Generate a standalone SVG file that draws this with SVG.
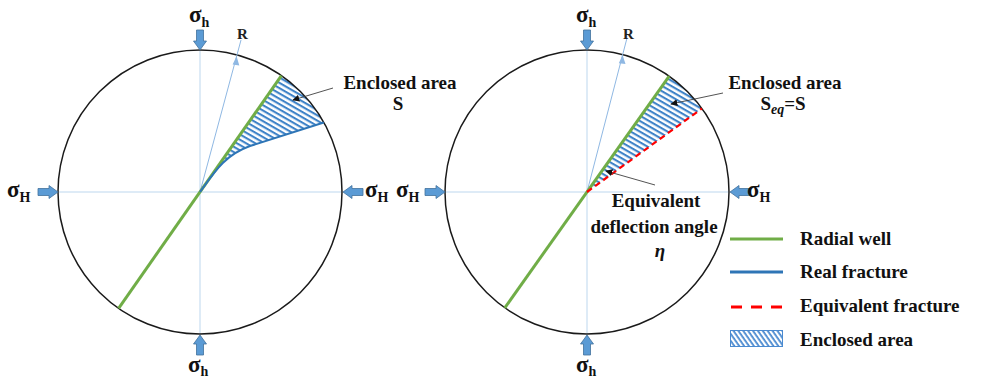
<svg xmlns="http://www.w3.org/2000/svg" width="984" height="379" viewBox="0 0 984 379">
<defs>
<style>
.circ{fill:none;stroke:#1a1a1a;stroke-width:1.5}
.axis{stroke:#bdd7ee;stroke-width:1;fill:none}
.rline{stroke:#8fb8e3;stroke-width:1;fill:none}
.well{stroke:#70ad47;stroke-width:3;fill:none;stroke-linecap:butt}
.real{stroke:#2e75b6;stroke-width:2;fill:none}
.eqf{stroke:#ff0000;stroke-width:2.2;fill:none;stroke-dasharray:6 4}
.ptr{stroke:#404040;stroke-width:0.9;fill:none}
.lbl{font-family:"Liberation Serif","Times New Roman",serif;font-weight:bold;font-size:19px;fill:#111}
.sig{font-family:"Liberation Serif","Times New Roman",serif;font-weight:bold;font-size:23px;fill:#111}
.sub{font-size:14px}
.rt{font-family:"Liberation Serif","Times New Roman",serif;font-size:15px;font-weight:bold;fill:#222}
.barrow{fill:#5b9bd5;stroke:#41719c;stroke-width:0.8}
</style>
<pattern id="hatch" patternUnits="userSpaceOnUse" width="10" height="4.6" patternTransform="rotate(30)">
<rect x="0" y="0" width="10" height="4.6" fill="#ffffff"/>
<rect x="0" y="0" width="10" height="2.1" fill="#3f83c8"/>
</pattern>
<pattern id="hatchL" patternUnits="userSpaceOnUse" width="10" height="4" patternTransform="rotate(55)">
<rect x="0" y="0" width="10" height="4" fill="#ffffff"/>
<rect x="0" y="0" width="10" height="1.8" fill="#4a8ad0"/>
</pattern>
<marker id="ah" viewBox="0 0 10 10" refX="9" refY="5" markerWidth="7" markerHeight="7" orient="auto" markerUnits="userSpaceOnUse">
<path d="M0,0 L10,5 L0,10 z" fill="#111"/>
</marker>
<path id="ba" d="M0,-3.5 L11,-3.5 L11,-6.5 L20,0 L11,6.5 L11,3.5 L0,3.5 z"/>
</defs>
<rect width="984" height="379" fill="#ffffff"/>

<g id="left-diagram">
<path class="axis" d="M200,50 V334 M58,192 H342"/>
<path id="left-area" d="M200,192 C215,171 225,155 250,146 L323.8,122.5 A142,142 0 0 0 281.4,75.7 Z" fill="url(#hatch)"/>
<circle class="circ" cx="200" cy="192" r="142"/>
<path class="rline" d="M200,192 L241,40"/>
<path d="M236.6,56.3 L232.6,64.6 L239.3,65.4 z" fill="#8fb8e3"/>
<text class="rt" x="237" y="39">R</text>
<path class="well" d="M118.6,308.3 L281.4,75.7"/>
<path class="real" d="M200,192 C215,171 225,155 250,146 L323.8,122.5"/>
</g>

<g id="right-diagram">
<path class="axis" d="M587,50 V334 M445,192 H729"/>
<path id="right-area" d="M587,192 L669.2,76.2 A142,142 0 0 1 701.9,108.5 Z" fill="url(#hatch)"/>
<circle class="circ" cx="587" cy="192" r="142"/>
<path class="rline" d="M587,192 L627,38"/>
<path d="M622.6,55 L618.8,63.3 L625.5,64.1 z" fill="#8fb8e3"/>
<text class="rt" x="623" y="39">R</text>
<path class="well" d="M504.8,307.8 L669.2,76.2"/>
<path class="eqf" d="M587,192 L701.9,108.5"/>
</g>

<g id="connectors">
<path class="ptr" d="M333,88 L293,100" marker-end="url(#ah)"/>
<path class="ptr" d="M723,93 L671,104" marker-end="url(#ah)"/>
<path class="ptr" d="M655,185 L606,171" marker-end="url(#ah)"/>
</g>

<g id="stress-arrows">
<use href="#ba" class="barrow" transform="translate(200,30) rotate(90)"/>
<use href="#ba" class="barrow" transform="translate(200,355) rotate(-90)"/>
<use href="#ba" class="barrow" transform="translate(38,192)"/>
<use href="#ba" class="barrow" transform="translate(363,192) rotate(180)"/>
<use href="#ba" class="barrow" transform="translate(587,30) rotate(90)"/>
<use href="#ba" class="barrow" transform="translate(587,355) rotate(-90)"/>
<use href="#ba" class="barrow" transform="translate(425,192)"/>
<use href="#ba" class="barrow" transform="translate(750,192) rotate(180)"/>
</g>

<g id="stress-labels">
<text class="sig" x="189" y="22">σ<tspan class="sub" dy="5">h</tspan></text>
<text class="sig" x="188" y="372">σ<tspan class="sub" dy="4">h</tspan></text>
<text class="sig" x="7" y="197">σ<tspan class="sub" dy="5">H</tspan></text>
<text class="sig" x="365" y="197">σ<tspan class="sub" dy="5">H</tspan></text>
<text class="sig" x="576" y="22">σ<tspan class="sub" dy="5">h</tspan></text>
<text class="sig" x="576" y="372">σ<tspan class="sub" dy="4">h</tspan></text>
<text class="sig" x="396" y="197">σ<tspan class="sub" dy="5">H</tspan></text>
<text class="sig" x="747" y="197">σ<tspan class="sub" dy="5">H</tspan></text>
</g>

<g id="label-left">
<text class="lbl" x="400" y="89" text-anchor="middle">Enclosed area</text>
<text class="lbl" x="398" y="110" text-anchor="middle">S</text>
</g>
<g id="label-right">
<text class="lbl" x="785" y="89" text-anchor="middle">Enclosed area</text>
<text class="lbl" x="783" y="110" text-anchor="middle">S<tspan font-style="italic" font-size="14px" dy="4">eq</tspan><tspan dy="-4">=S</tspan></text>
</g>
<g id="label-angle">
<text class="lbl" x="656" y="207" text-anchor="middle">Equivalent</text>
<text class="lbl" x="654" y="233" text-anchor="middle">deflection angle</text>
<text class="lbl" x="660" y="257" text-anchor="middle" font-style="italic">η</text>
</g>

<g id="legend">
<path class="well" d="M730,239 H783"/>
<text class="lbl" x="800" y="245">Radial well</text>
<path d="M730,272 H783" stroke="#2e75b6" stroke-width="3"/>
<text class="lbl" x="800" y="278">Real fracture</text>
<path d="M731,307 H783" stroke="#ff0000" stroke-width="3" stroke-dasharray="11 9"/>
<text class="lbl" x="800" y="312">Equivalent fracture</text>
<rect x="730.5" y="330.5" width="52" height="16" fill="url(#hatchL)" stroke="#4a8ad0" stroke-width="1"/>
<text class="lbl" x="800" y="346">Enclosed area</text>
</g>
</svg>
